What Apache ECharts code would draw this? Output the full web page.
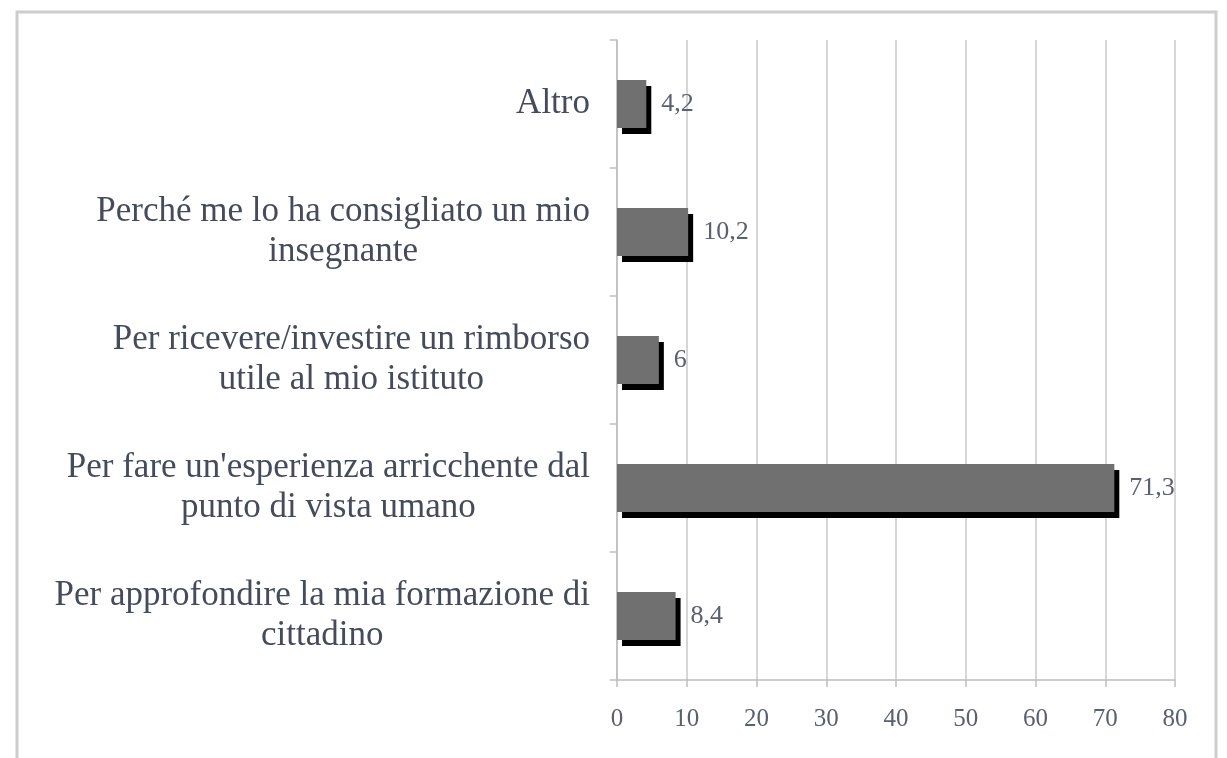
<!DOCTYPE html>
<html>
<head>
<meta charset="utf-8">
<script src="https://cdn.jsdelivr.net/npm/echarts@6/dist/echarts.min.js"></script>
<style>
    html, body { margin: 0; padding: 0; background: #fff; }
    #chart { width: 1227px; height: 758px; }
</style>
</head>
<body>
<div id="chart"></div>
<script>
// categories from bottom to top
const categories = [
    'Per approfondire la mia formazione di\ncittadino',
    "Per fare un'esperienza arricchente dal\npunto di vista umano",
    'Per ricevere/investire un rimborso\nutile al mio istituto',
    'Perché me lo ha consigliato un mio\ninsegnante',
    'Altro'
]
const values = [8.4, 71.3, 6, 10.2, 4.2]
const xTicks = [0, 10, 20, 30, 40, 50, 60, 70, 80]

const serif = '"Liberation Serif", "DejaVu Serif", serif'
const textColor = '#444b5e'

const myChart = echarts.init(document.getElementById('chart'))
myChart.setOption({
    animation: false,
    graphic: [{
        type: 'rect',
        shape: { x: 17, y: 12, width: 1199, height: 800 },
        style: { fill: 'none', stroke: '#cdcdcd', lineWidth: 3 },
        silent: true
    }],
    grid: {
        left: 617,
        right: 52,
        top: 40,
        bottom: 78
    },
    xAxis: {
        type: 'value',
        min: xTicks[0],
        max: xTicks[xTicks.length - 1],
        interval: 10,
        axisLine: { show: true, lineStyle: { color: '#bdbdbd', width: 1.5 } },
        axisTick: { show: true, length: 7, lineStyle: { color: '#bdbdbd', width: 1.5 } },
        splitLine: { show: true, lineStyle: { color: '#c8c8c8', width: 1.5 } },
        axisLabel: {
            margin: 27,
            fontFamily: serif,
            fontSize: 25,
            color: '#596074'
        }
    },
    yAxis: {
        type: 'category',
        data: categories,
        axisLine: { show: true, lineStyle: { color: '#bdbdbd', width: 1.5 } },
        axisTick: { show: true, length: 7, lineStyle: { color: '#bdbdbd', width: 1.5 } },
        axisLabel: {
            margin: 27,
            formatter(v) {
                return v.split('\n').map(s => '{c|' + s + '}').join('\n')
            },
            rich: {
                c: {
                    align: 'center',
                    fontFamily: serif,
                    fontSize: 35,
                    lineHeight: 40,
                    color: textColor
                }
            }
        }
    },
    series: [{
        type: 'bar',
        data: values,
        barWidth: 48,
        itemStyle: {
            color: '#707070',
            shadowColor: '#000000',
            shadowBlur: 0,
            shadowOffsetX: 5,
            shadowOffsetY: 6
        },
        label: {
            show: true,
            position: 'right',
            distance: 15,
            fontFamily: serif,
            fontSize: 26,
            color: '#596074',
            formatter(p) {
                return String(p.value).replace('.', ',')
            }
        }
    }]
})
</script>
</body>
</html>
